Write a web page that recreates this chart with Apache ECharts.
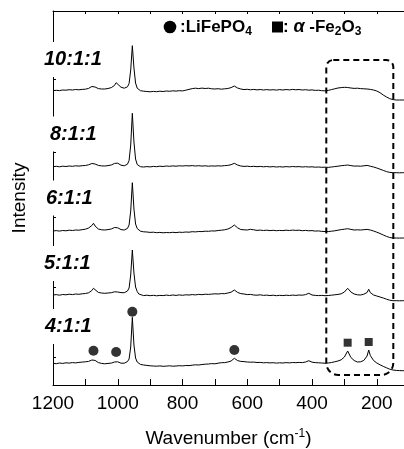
<!DOCTYPE html>
<html><head><meta charset="utf-8">
<script src="https://cdn.jsdelivr.net/npm/echarts@6/dist/echarts.min.js"></script>
<style>html,body{margin:0;padding:0;background:#fff}#c{width:404px;height:449px}</style>
</head><body><div id="c"></div>
<script>
// ---- data ----
const wavenumbers = [1200,1190,1180,1170,1160,1150,1140,1130,1120,1110,1100,1090,1080,1075,1070,1060,1050,1040,1030,1020,1010,1005,1000,990,980,975,970,965,960,955,950,945,940,935,930,920,910,900,890,880,870,860,850,840,830,820,810,800,790,780,770,760,750,740,730,720,710,700,690,680,670,660,650,640,630,620,610,600,590,580,570,560,550,540,530,520,510,500,490,480,470,460,450,440,430,420,410,400,390,380,370,360,350,340,330,320,310,300,290,280,270,260,250,240,230,225,220,210,200,190,180,170,160,150,140,130,120,110,100];

const sample_4_1_1 = [21.7,21.3,22.0,21.6,22.2,21.9,22.4,22.1,22.6,22.9,23.2,23.6,25.0,26.4,24.6,22.4,21.6,21.2,21.6,21.9,23.0,25.0,23.2,21.8,21.8,22.4,23.4,26.0,38.0,67.7,40.0,27.0,23.0,21.4,20.6,20.0,19.6,19.2,19.0,18.8,19.1,18.7,18.9,19.2,18.8,19.0,19.3,19.1,19.5,19.4,19.8,20.2,20.0,20.5,20.8,21.0,21.4,21.2,21.8,22.3,22.4,23.0,24.0,26.7,24.4,23.6,23.4,23.0,22.8,22.9,22.5,22.6,22.2,22.4,22.1,22.3,21.9,22.2,22.0,22.4,22.1,22.5,22.3,22.6,22.4,23.0,24.3,22.8,22.4,22.2,22.0,21.8,22.0,22.5,23.2,24.0,25.2,28.0,34.0,27.5,24.5,23.0,23.2,24.6,29.0,35.0,29.5,24.5,22.0,20.2,18.6,17.2,15.8,15.0,14.6,14.4,14.3,14.3,14.3];

const sample_5_1_1 = [90.0,90.4,89.8,90.5,90.2,90.8,90.4,91.0,90.7,91.2,91.5,92.2,94.5,96.7,95.0,92.6,92.0,91.7,92.0,92.3,93.2,94.3,93.0,92.4,92.3,92.8,94.0,97.0,110.0,135.0,112.0,98.0,93.5,91.0,89.8,89.4,89.8,89.3,89.7,89.2,89.6,89.4,89.9,89.5,90.0,89.6,90.1,89.7,90.2,90.0,90.4,90.1,90.6,90.3,90.8,90.6,90.9,91.2,91.0,91.4,91.3,92.0,92.8,95.0,92.6,91.4,91.0,90.4,90.6,90.0,89.8,90.2,89.6,89.9,89.4,89.8,89.3,89.7,89.4,89.8,89.5,89.9,89.6,90.0,89.8,90.4,91.7,90.0,89.6,89.4,89.6,89.3,89.5,89.8,90.2,90.6,91.2,93.0,96.7,93.0,91.0,90.2,90.0,90.8,92.5,95.7,92.4,90.0,89.0,88.0,87.0,85.8,84.8,84.3,84.3,84.2,84.3,84.3,84.3];

const sample_6_1_1 = [154.0,154.4,153.9,154.5,154.2,154.8,154.5,155.0,154.8,155.3,155.8,157.0,159.5,161.7,159.0,156.0,155.2,155.0,155.4,156.0,157.5,159.3,157.2,155.4,155.0,155.5,156.6,160.0,174.0,202.3,176.0,161.0,156.5,154.5,153.8,153.2,153.0,152.6,152.8,152.3,152.6,152.2,152.5,152.3,152.7,152.4,152.8,152.6,153.0,152.8,153.3,153.1,153.5,153.4,153.8,153.7,154.1,154.0,154.5,154.8,155.2,156.0,157.5,160.0,157.2,155.5,155.2,155.0,155.7,155.2,154.6,154.9,154.5,154.8,154.4,154.7,154.3,154.6,154.4,154.8,154.5,154.9,154.6,154.8,154.3,154.6,154.2,154.4,153.9,154.1,153.6,153.5,153.4,153.8,154.2,154.8,155.4,155.8,156.3,155.6,155.0,155.2,155.0,155.3,155.6,155.4,155.0,154.0,152.8,151.5,150.0,148.6,147.5,147.0,147.0,146.9,147.0,147.0,147.0];

const sample_8_1_1 = [218.3,218.7,218.2,218.8,218.5,219.0,218.7,219.2,218.9,219.3,219.5,220.2,221.5,222.3,221.0,219.6,219.1,219.0,219.4,220.0,221.6,223.3,221.8,219.8,219.2,219.6,220.8,224.5,240.0,271.7,243.0,226.0,220.5,218.8,218.3,218.0,218.4,218.1,218.6,218.3,218.8,218.5,219.0,218.7,219.1,218.8,219.2,219.0,219.3,219.1,219.4,219.0,219.3,218.9,219.2,218.8,219.1,218.9,219.2,219.0,219.4,219.6,220.3,221.7,220.0,219.0,218.6,218.8,218.4,218.7,218.3,218.6,218.2,218.5,218.1,218.4,218.0,218.3,218.0,218.4,218.1,218.5,218.2,218.4,218.0,218.3,218.0,218.2,217.8,218.0,217.7,217.8,217.6,218.0,218.4,218.8,219.3,219.6,220.0,219.4,218.9,219.0,218.8,219.2,219.6,219.3,218.8,218.0,217.0,215.8,214.6,213.4,212.6,212.3,212.3,212.2,212.3,212.3,212.3];

const sample_10_1_1 = [294.3,294.7,294.4,295.0,294.8,295.3,295.0,295.5,295.2,295.6,295.8,296.6,298.5,300.0,298.0,296.4,296.0,296.0,296.5,297.4,299.6,302.3,300.8,297.8,296.8,297.0,298.2,301.5,315.0,339.3,317.0,302.0,296.8,295.0,294.3,293.8,293.5,293.2,293.6,293.3,293.8,293.5,294.0,293.7,294.2,293.9,294.3,294.1,294.8,295.6,296.4,296.8,296.4,296.9,296.5,296.8,296.2,296.0,296.3,295.8,296.2,296.5,297.4,299.0,297.0,296.0,295.4,295.7,295.2,295.6,295.1,295.5,295.0,295.4,295.0,295.3,294.9,295.4,295.0,295.5,295.1,295.6,295.2,295.5,295.0,295.3,294.8,295.1,294.6,294.8,294.3,294.2,294.6,295.4,296.2,297.0,297.4,297.7,297.5,297.0,296.6,296.8,296.4,296.2,296.0,295.8,295.6,295.0,294.0,292.3,290.0,288.0,286.3,285.4,285.0,285.0,285.0,285.0,285.0];

const sampleNames = ['10:1:1','8:1:1','6:1:1','5:1:1','4:1:1'];
const lifepo4Peaks = [[1075,34.3],[1005,33.0],[955,73.3],[640,35.0]];
const fe2o3Peaks = [[290,42.3],[225,43.0]];
const xTickValues = [1200,1100,1000,900,800,700,600,500,400,300,200];
const xTickLabels = [1200,1000,800,600,400,200];
const yTickValues = [28,98,168,233,306];
const boxWavenumbers = [356,149];
const boxIntensity = [10,325];

// ---- chart ----
const FONT = '"Liberation Sans", Arial, Helvetica, sans-serif';
const chart = echarts.init(document.getElementById('c'), null, {renderer:'canvas', width:404, height:449});
const sampleValues = [sample_10_1_1, sample_8_1_1, sample_6_1_1, sample_5_1_1, sample_4_1_1];

const lineSeries = sampleValues.map((vals, k) => ({
  name: sampleNames[k], type:'line', xAxisIndex:0, yAxisIndex:0,
  data: wavenumbers.map((w,i)=>[w, vals[i]]),
  showSymbol:false, symbol:'none', silent:true, z:3,
  lineStyle:{color:'#000', width:1}
}));

const option = {
  animation:false,
  backgroundColor:'#fff',
  grid:{left:53, right:0, top:11, bottom:64, containLabel:false, outerBoundsMode:'none'},
  xAxis:[{
    type:'value', inverse:true, min:116, max:1200, position:'bottom',
    axisLine:{show:true, onZero:false, lineStyle:{color:'#000', width:1}},
    axisTick:{show:true, inside:true, length:6, customValues:xTickValues, lineStyle:{color:'#000'}},
    axisLabel:{color:'#000', fontSize:19, fontFamily:FONT, margin:9, customValues:xTickLabels,
      formatter: v => String(v)},
    splitLine:{show:false},
    name:'Wavenumber (cm{sup|-1})', nameLocation:'middle', nameGap:43,
    nameTextStyle:{color:'#000', fontSize:19, fontFamily:FONT, lineHeight:22,
      rich:{sup:{fontSize:12, fontFamily:FONT, color:'#000', lineHeight:12, verticalAlign:'top'}}}
  },{
    type:'value', inverse:true, min:116, max:1200, position:'top',
    axisLine:{show:true, onZero:false, lineStyle:{color:'#000', width:1}},
    axisTick:{show:true, inside:true, length:3, customValues:xTickValues, lineStyle:{color:'#000'}},
    axisLabel:{show:false}, splitLine:{show:false}
  }],
  yAxis:{
    type:'value', min:0, max:374,
    axisLine:{show:true, onZero:false, lineStyle:{color:'#000', width:1}},
    axisTick:{show:true, inside:true, length:3, customValues:yTickValues, lineStyle:{color:'#000'}},
    axisLabel:{show:false}, splitLine:{show:false},
    name:'Intensity', nameLocation:'middle', nameGap:24,
    nameTextStyle:{color:'#000', fontSize:19, fontFamily:FONT}
  },
  series: lineSeries.concat([
    {type:'scatter', xAxisIndex:0, yAxisIndex:0, data:lifepo4Peaks, symbol:'circle', symbolSize:10, itemStyle:{color:'#000'}, z:4, silent:true},
    {type:'scatter', xAxisIndex:0, yAxisIndex:0, data:fe2o3Peaks, symbol:'rect', symbolSize:8, itemStyle:{color:'#000'}, z:4, silent:true}
  ])
};
chart.setOption(option);

// annotations
const labelPos = [[43,59.5],[49,134],[45,198],[43,263.5],[44,326.5]];
const graphics = sampleNames.map((t,k)=>({
  type:'text', z:1,
  style:{x:labelPos[k][0], y:labelPos[k][1], text:t, align:'left', verticalAlign:'middle',
    font:'italic bold 20px ' + FONT, fill:'#000', backgroundColor:'#fff', padding:[9,1,6,1]}
}));

const tl = chart.convertToPixel({seriesIndex:0}, [boxWavenumbers[0], boxIntensity[1]]);
const br = chart.convertToPixel({seriesIndex:0}, [boxWavenumbers[1], boxIntensity[0]]);
graphics.push({
  type:'rect', z:50,
  shape:{x:tl[0], y:tl[1], width:br[0]-tl[0], height:br[1]-tl[1], r:[7,7,12,12]},
  style:{fill:'none', stroke:'#000', lineWidth:2, lineDash:[6,4]}
});

// legend
graphics.push({type:'circle', z:100, shape:{cx:170, cy:27, r:6.3}, style:{fill:'#000'}});
graphics.push({type:'text', z:100, style:{x:180, y:27, align:'left', verticalAlign:'middle',
  text:'{a|:LiFePO}{b|4}', rich:{a:{font:'bold 17px '+FONT, fill:'#000', lineHeight:22}, b:{font:'bold 12px '+FONT, fill:'#000', lineHeight:12, verticalAlign:'bottom'}}}});
graphics.push({type:'rect', z:100, shape:{x:272, y:21.5, width:11, height:11}, style:{fill:'#000'}});
graphics.push({type:'text', z:100, style:{x:283, y:27, align:'left', verticalAlign:'middle',
  text:'{a|: }{g|α}{a| -Fe}{b|2}{a|O}{b|3}', rich:{a:{font:'bold 17px '+FONT, fill:'#000', lineHeight:22}, g:{font:'italic bold 18px '+FONT, fill:'#000', lineHeight:22}, b:{font:'bold 12px '+FONT, fill:'#000', lineHeight:12, verticalAlign:'bottom'}}}});

chart.setOption({graphic: graphics});
</script>
</body></html>
